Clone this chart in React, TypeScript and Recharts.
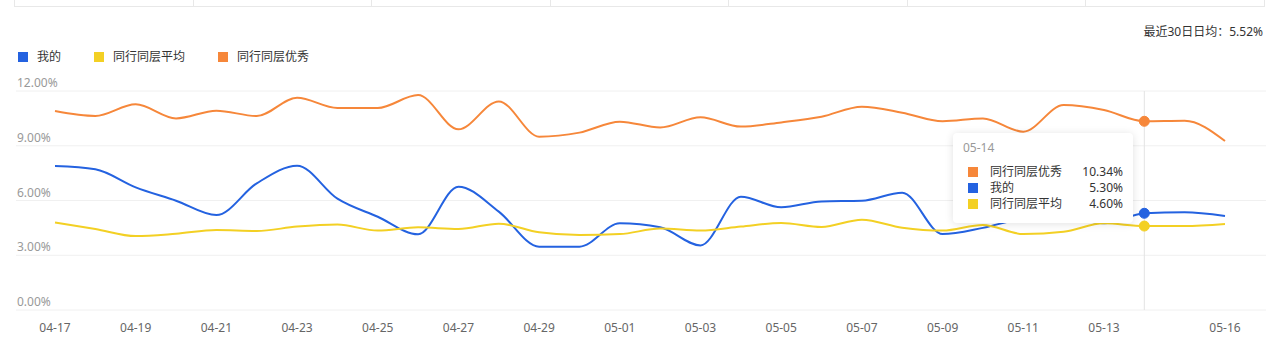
import { LineChart, Line, XAxis, YAxis, CartesianGrid, Tooltip } from "recharts";

const dates = [
  "04-17", "04-18", "04-19", "04-20", "04-21", "04-22", "04-23", "04-24", "04-25", "04-26",
  "04-27", "04-28", "04-29", "04-30", "05-01", "05-02", "05-03", "05-04", "05-05", "05-06",
  "05-07", "05-08", "05-09", "05-10", "05-11", "05-12", "05-13", "05-14", "05-15", "05-16",
];
const mine = [
  7.89, 7.71, 6.72, 5.99, 5.2, 6.94, 7.91, 6.1, 5.11, 4.15,
  6.76, 5.39, 3.47, 3.47, 4.75, 4.53, 3.54, 6.21, 5.63, 5.95,
  5.99, 6.43, 4.16, 4.5, 5.0, 5.1, 4.75, 5.3, 5.35, 5.15,
];
const peerAvg = [
  4.8, 4.44, 4.05, 4.18, 4.38, 4.33, 4.57, 4.68, 4.35, 4.53,
  4.44, 4.73, 4.26, 4.11, 4.16, 4.46, 4.35, 4.57, 4.77, 4.55,
  4.95, 4.51, 4.35, 4.66, 4.16, 4.29, 4.75, 4.6, 4.6, 4.71,
];
const peerTop = [
  10.9, 10.63, 11.27, 10.5, 10.92, 10.63, 11.63, 11.07, 11.07, 11.78,
  9.9, 11.43, 9.5, 9.72, 10.32, 10.0, 10.56, 10.05, 10.28, 10.59,
  11.14, 10.81, 10.34, 10.5, 9.77, 11.23, 10.96, 10.34, 10.37, 9.26,
];
const shownTicks = [
  "04-17", "04-19", "04-21", "04-23", "04-25", "04-27", "04-29", "05-01",
  "05-03", "05-05", "05-07", "05-09", "05-11", "05-13", "05-16",
];
const yTicks = [0, 3, 6, 9, 12];

const series = [
  { key: "mine", name: "我的", color: "#2462E0" },
  { key: "peerAvg", name: "同行同层平均", color: "#F3D024" },
  { key: "peerTop", name: "同行同层优秀", color: "#F6873A" },
];

const data = dates.map((d, i) => ({ date: d, mine: mine[i], peerAvg: peerAvg[i], peerTop: peerTop[i] }));

const fontStack = '"Noto Sans", "Noto Sans CJK SC", sans-serif';
const pct = (v: number) => v.toFixed(2) + "%";

function YTick(props: any) {
  const { y, payload } = props;
  return (
    <text x={17} y={y - 4} fill="#999" fontSize={12} textAnchor="start">
      {pct(payload.value)}
    </text>
  );
}

function TipBox({ active, payload, label }: any) {
  if (!active || !payload || !payload.length) return null;
  const rows = [...payload].sort((a, b) => b.value - a.value);
  return (
    <div
      style={{
        width: 180,
        height: 90,
        boxSizing: "border-box",
        background: "#fff",
        boxShadow: "0 1px 8px rgba(0,0,0,0.12)",
        borderRadius: 4,
        padding: "7px 10px 0 10px",
        fontSize: 12,
        fontFamily: fontStack,
      }}
    >
      <div style={{ color: "#999", lineHeight: "16px", marginBottom: 8 }}>{label}</div>
      {rows.map((r: any) => (
        <div key={r.dataKey} style={{ display: "flex", alignItems: "center", lineHeight: "16px", paddingLeft: 5 }}>
          <span style={{ width: 10, height: 10, background: r.color, marginRight: 12 }} />
          <span style={{ color: "#333", flex: 1 }}>{r.name}</span>
          <span style={{ color: "#333" }}>{pct(r.value)}</span>
        </div>
      ))}
    </div>
  );
}

export default function App() {
  return (
    <div
      style={{
        position: "absolute",
        left: 0,
        top: 0,
        width: 1276,
        height: 362,
        background: "#fff",
        fontFamily: fontStack,
        overflow: "hidden",
      }}
    >
      {/* table strip cut off at the top */}
      <div
        style={{
          position: "absolute",
          left: 14,
          top: -1,
          width: 1251,
          height: 8,
          border: "1px solid #e8e8e8",
          display: "flex",
          boxSizing: "border-box",
        }}
      >
        {Array.from({ length: 7 }).map((_, i) => (
          <div key={i} style={{ flex: 1, borderLeft: i ? "1px solid #e8e8e8" : "none" }} />
        ))}
      </div>

      <div style={{ position: "absolute", right: 13, top: 24, fontSize: 12, color: "#333", lineHeight: "16px" }}>
        最近30日日均：5.52%
      </div>

      <div style={{ position: "absolute", left: 18, top: 49, display: "flex", alignItems: "center", fontSize: 12, color: "#333", lineHeight: "16px" }}>
        {series.map((s) => (
          <div key={s.key} style={{ display: "flex", alignItems: "center", marginRight: 33 }}>
            <span style={{ width: 10, height: 10, background: s.color, marginRight: 9 }} />
            <span>{s.name}</span>
          </div>
        ))}
      </div>

      <div style={{ position: "absolute", left: 0, top: 0 }}>
        <LineChart width={1276} height={362} data={data} margin={{ top: 91, right: 10, bottom: 22, left: 0 }}>
          <CartesianGrid stroke="#f0f0f0" vertical={false} />
          <XAxis
            dataKey="date"
            interval={0}
            height={30}
            padding={{ left: 39, right: 41 }}
            axisLine={false}
            tickLine={false}
            tickSize={0}
            tickMargin={13}
            tick={{ fill: "#666", fontSize: 12 }}
            tickFormatter={(v: string) => (shownTicks.includes(v) ? v : "")}
          />
          <YAxis
            width={16}
            domain={[0, 12]}
            ticks={yTicks}
            interval={0}
            axisLine={false}
            tickLine={false}
            tick={(p: any) => <YTick {...p} />}
          />
          <Tooltip
            content={<TipBox />}
            defaultIndex={27}
            active
            position={{ x: 953, y: 133 }}
            isAnimationActive={false}
            cursor={{ stroke: "#e3e3e3", strokeWidth: 1 }}
            wrapperStyle={{ outline: "none" }}
          />
          {series.map((s) => (
            <Line
              key={s.key}
              type="monotone"
              dataKey={s.key}
              name={s.name}
              stroke={s.color}
              strokeWidth={2}
              dot={false}
              activeDot={{ r: 5, fill: s.color, stroke: s.color, strokeWidth: 1 }}
              isAnimationActive={false}
            />
          ))}
        </LineChart>
      </div>
    </div>
  );
}
